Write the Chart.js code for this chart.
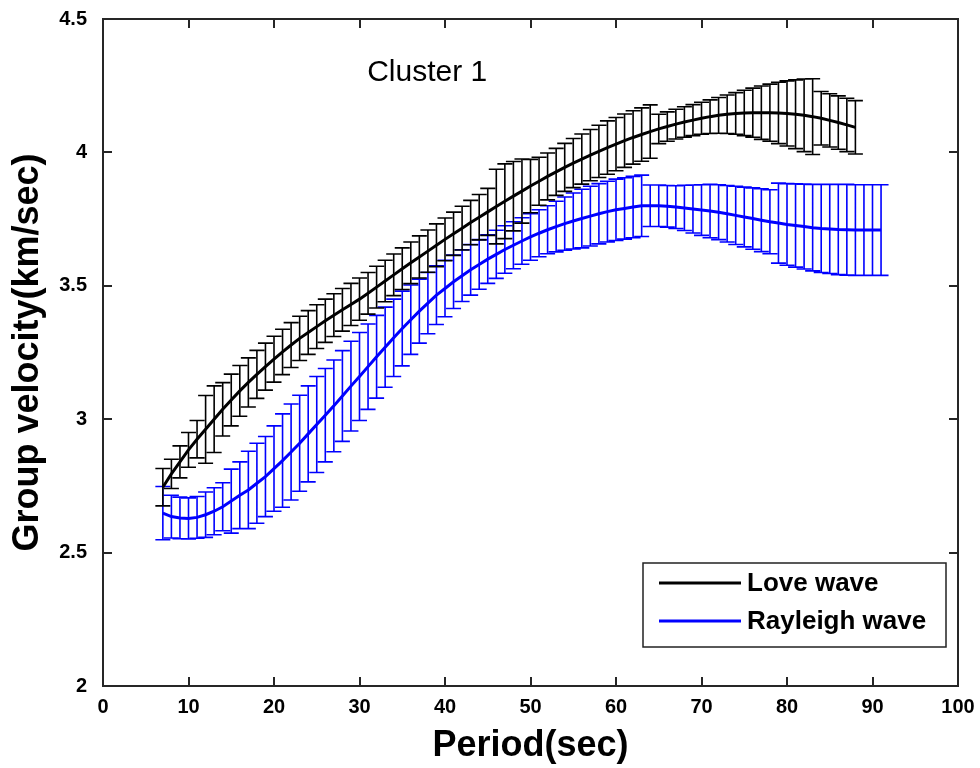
<!DOCTYPE html>
<html>
<head>
<meta charset="utf-8">
<script src="https://cdn.jsdelivr.net/npm/chart.js@4.4.1/dist/chart.umd.min.js"></script>
<style>
  html, body { margin: 0; padding: 0; background: #fff; }
  #wrap { width: 980px; height: 768px; }
</style>
</head>
<body>
<div id="wrap"><canvas id="grafico" width="980" height="768"></canvas></div>
<script>
// periodos (sec)
var periodosLove = [7,8,9,10,11,12,13,14,15,16,17,18,19,20,21,22,23,24,25,26,27,28,29,30,
  31,32,33,34,35,36,37,38,39,40,41,42,43,44,45,46,47,48,49,50,51,52,53,54,55,56,57,58,59,60,
  61,62,63,64,65,66,67,68,69,70,71,72,73,74,75,76,77,78,79,80,81,82,83,84,85,86,87,88];
var periodosRayleigh = [7,8,9,10,11,12,13,14,15,16,17,18,19,20,21,22,23,24,25,26,27,28,29,30,
  31,32,33,34,35,36,37,38,39,40,41,42,43,44,45,46,47,48,49,50,51,52,53,54,55,56,57,58,59,60,
  61,62,63,64,65,66,67,68,69,70,71,72,73,74,75,76,77,78,79,80,81,82,83,84,85,86,87,88,89,90,91];

// velocidad de grupo media (km/sec)
var velLove = [2.745,2.795,2.84,2.885,2.925,2.962,3.0,3.037,3.072,3.106,3.138,3.168,3.197,3.225,
  3.252,3.278,3.303,3.325,3.347,3.369,3.39,3.41,3.43,3.45,3.472,3.495,3.518,3.541,3.564,3.586,
  3.608,3.63,3.652,3.674,3.695,3.716,3.737,3.757,3.777,3.797,3.817,3.836,3.855,3.874,3.892,3.91,
  3.927,3.944,3.96,3.975,3.99,4.004,4.018,4.031,4.044,4.056,4.067,4.078,4.088,4.097,4.106,4.114,
  4.121,4.128,4.134,4.139,4.143,4.146,4.148,4.149,4.149,4.149,4.148,4.146,4.143,4.139,4.134,4.128,
  4.12,4.112,4.103,4.094];
var errLove = [0.07,0.055,0.06,0.065,0.07,0.127,0.125,0.1,0.097,0.095,0.092,0.09,0.088,0.086,
  0.085,0.084,0.083,0.082,0.082,0.081,0.08,0.08,0.079,0.079,0.078,0.078,0.078,0.078,0.078,0.078,
  0.079,0.079,0.08,0.08,0.081,0.082,0.083,0.085,0.088,0.14,0.14,0.13,0.12,0.1,0.09,0.088,
  0.088,0.09,0.092,0.094,0.096,0.098,0.1,0.1,0.1,0.1,0.1,0.1,0.055,0.055,0.056,0.057,
  0.058,0.06,0.063,0.067,0.072,0.078,0.085,0.092,0.1,0.107,0.115,0.122,0.129,0.136,0.142,0.1,
  0.1,0.1,0.1,0.1];

var velRayleigh = [2.648,2.635,2.63,2.628,2.632,2.642,2.655,2.672,2.693,2.715,2.735,2.76,2.785,
  2.815,2.845,2.877,2.91,2.945,2.98,3.015,3.05,3.087,3.124,3.16,3.197,3.234,3.27,3.305,3.34,
  3.373,3.405,3.435,3.465,3.49,3.515,3.538,3.56,3.58,3.6,3.618,3.636,3.652,3.668,3.683,3.697,
  3.71,3.722,3.733,3.743,3.752,3.761,3.77,3.778,3.785,3.79,3.795,3.8,3.8,3.8,3.798,3.795,3.792,
  3.788,3.784,3.78,3.776,3.77,3.764,3.758,3.752,3.746,3.74,3.735,3.73,3.726,3.722,3.718,3.715,
  3.713,3.711,3.71,3.709,3.709,3.709,3.709];
var errRayleigh = [0.1,0.08,0.078,0.077,0.078,0.085,0.088,0.09,0.12,0.125,0.145,0.15,0.15,0.16,
  0.175,0.18,0.18,0.18,0.18,0.175,0.172,0.17,0.168,0.165,0.16,0.155,0.15,0.145,0.14,0.13,0.12,
  0.115,0.11,0.106,0.1,0.097,0.095,0.093,0.091,0.09,0.089,0.088,0.087,0.087,0.088,0.09,0.095,
  0.1,0.105,0.11,0.112,0.113,0.114,0.115,0.115,0.115,0.115,0.078,0.078,0.078,0.08,0.085,0.09,
  0.095,0.1,0.103,0.106,0.109,0.112,0.115,0.118,0.12,0.15,0.153,0.156,0.159,0.162,0.165,0.167,
  0.169,0.17,0.17,0.17,0.17,0.17];

var etiquetas = ['Love wave', 'Rayleigh wave'];
var colores = ['#000000', '#0000ff'];
var textoCluster = 'Cluster 1';

function puntos(xs, ys) {
  return xs.map(function (x, i) { return { x: x, y: ys[i] }; });
}

// barras de error (se dibujan antes de la linea de cada serie)
var barrasError = {
  id: 'barrasError',
  beforeDatasetDraw: function (chart, args) {
    var ds = chart.data.datasets[args.index];
    if (!ds.errores) return;
    var ctx = chart.ctx, xs = chart.scales.x, ys = chart.scales.y;
    ctx.save();
    ctx.strokeStyle = ds.borderColor;
    ctx.lineWidth = 1.6;
    ctx.beginPath();
    ds.data.forEach(function (p, i) {
      var px = xs.getPixelForValue(p.x);
      var top = ys.getPixelForValue(p.y + ds.errores[i]);
      var bot = ys.getPixelForValue(p.y - ds.errores[i]);
      ctx.moveTo(px, top); ctx.lineTo(px, bot);
      ctx.moveTo(px - 7.5, top); ctx.lineTo(px + 7.5, top);
      ctx.moveTo(px - 7.5, bot); ctx.lineTo(px + 7.5, bot);
    });
    ctx.stroke();
    ctx.restore();
  }
};

// marco, marcas interiores, leyenda y texto
var marco = {
  id: 'marco',
  afterDraw: function (chart) {
    var ctx = chart.ctx, a = chart.chartArea, xs = chart.scales.x, ys = chart.scales.y;
    ctx.save();
    ctx.strokeStyle = '#262626';
    ctx.lineWidth = 2;
    ctx.strokeRect(a.left, a.top, a.right - a.left, a.bottom - a.top);
    ctx.beginPath();
    xs.ticks.forEach(function (t) {
      var px = Math.round(xs.getPixelForValue(t.value));
      ctx.moveTo(px, a.bottom); ctx.lineTo(px, a.bottom - 9);
      ctx.moveTo(px, a.top); ctx.lineTo(px, a.top + 9);
    });
    ys.ticks.forEach(function (t) {
      var py = Math.round(ys.getPixelForValue(t.value));
      ctx.moveTo(a.left, py); ctx.lineTo(a.left + 9, py);
      ctx.moveTo(a.right, py); ctx.lineTo(a.right - 9, py);
    });
    ctx.stroke();

    // leyenda
    var lx = 643, ly = 563, lw = 303, lh = 84;
    ctx.fillStyle = '#fff';
    ctx.fillRect(lx, ly, lw, lh);
    ctx.lineWidth = 1.5;
    ctx.strokeStyle = '#222';
    ctx.strokeRect(lx, ly, lw, lh);
    ctx.font = 'bold 26px "Liberation Sans", Arial, sans-serif';
    ctx.textBaseline = 'middle';
    ctx.textAlign = 'left';
    etiquetas.forEach(function (et, i) {
      var yy = ly + 20 + i * 38;
      ctx.strokeStyle = colores[i];
      ctx.lineWidth = 3;
      ctx.beginPath();
      ctx.moveTo(lx + 16, yy); ctx.lineTo(lx + 98, yy);
      ctx.stroke();
      ctx.fillStyle = '#000';
      ctx.fillText(et, lx + 104, yy + 1);
    });

    // texto del cluster
    ctx.font = '30px "Liberation Sans", Arial, sans-serif';
    ctx.fillStyle = '#000';
    ctx.fillText(textoCluster, xs.getPixelForValue(30.9), ys.getPixelForValue(4.298));
    ctx.restore();
  }
};

var ctx = document.getElementById('grafico').getContext('2d');
var grafico = new Chart(ctx, {
  type: 'line',
  data: {
    datasets: [{
      label: etiquetas[0],
      data: puntos(periodosLove, velLove),
      errores: errLove,
      borderColor: colores[0],
      borderWidth: 3,
      pointRadius: 0,
      tension: 0,
      order: 1
    }, {
      label: etiquetas[1],
      data: puntos(periodosRayleigh, velRayleigh),
      errores: errRayleigh,
      borderColor: colores[1],
      borderWidth: 3,
      pointRadius: 0,
      tension: 0,
      order: 2
    }]
  },
  plugins: [barrasError, marco],
  options: {
    responsive: false,
    animation: false,
    layout: { padding: { top: 19, right: 22, left: 0, bottom: 0 } },
    plugins: { legend: { display: false }, tooltip: { enabled: false } },
    scales: {
      x: {
        type: 'linear',
        min: 0, max: 100,
        grid: { display: false, drawTicks: false },
        border: { display: false },
        ticks: {
          stepSize: 10, color: '#000', padding: 9,
          font: { family: '"Liberation Sans", Arial, sans-serif', size: 20, weight: 'bold' }
        },
        title: {
          display: true, text: 'Period(sec)', color: '#000',
          padding: { top: 4, bottom: 0 },
          font: { family: '"Liberation Sans", Arial, sans-serif', size: 36, weight: 'bold' }
        },
        afterFit: function (s) { s.height = 82; s.paddingLeft = 0; s.paddingRight = 0; }
      },
      y: {
        type: 'linear',
        min: 2, max: 4.5,
        grid: { display: false, drawTicks: false },
        border: { display: false },
        ticks: {
          stepSize: 0.5, color: '#000', padding: 16,
          callback: function (v) { return String(v); },
          font: { family: '"Liberation Sans", Arial, sans-serif', size: 20, weight: 'bold' }
        },
        title: {
          display: true, text: 'Group velocity(km/sec)', color: '#000',
          padding: { top: 6, bottom: 6 },
          font: { family: '"Liberation Sans", Arial, sans-serif', size: 36, weight: 'bold' }
        },
        afterFit: function (s) { s.width = 103; s.paddingTop = 0; s.paddingBottom = 0; }
      }
    }
  }
});
</script>
</body>
</html>
